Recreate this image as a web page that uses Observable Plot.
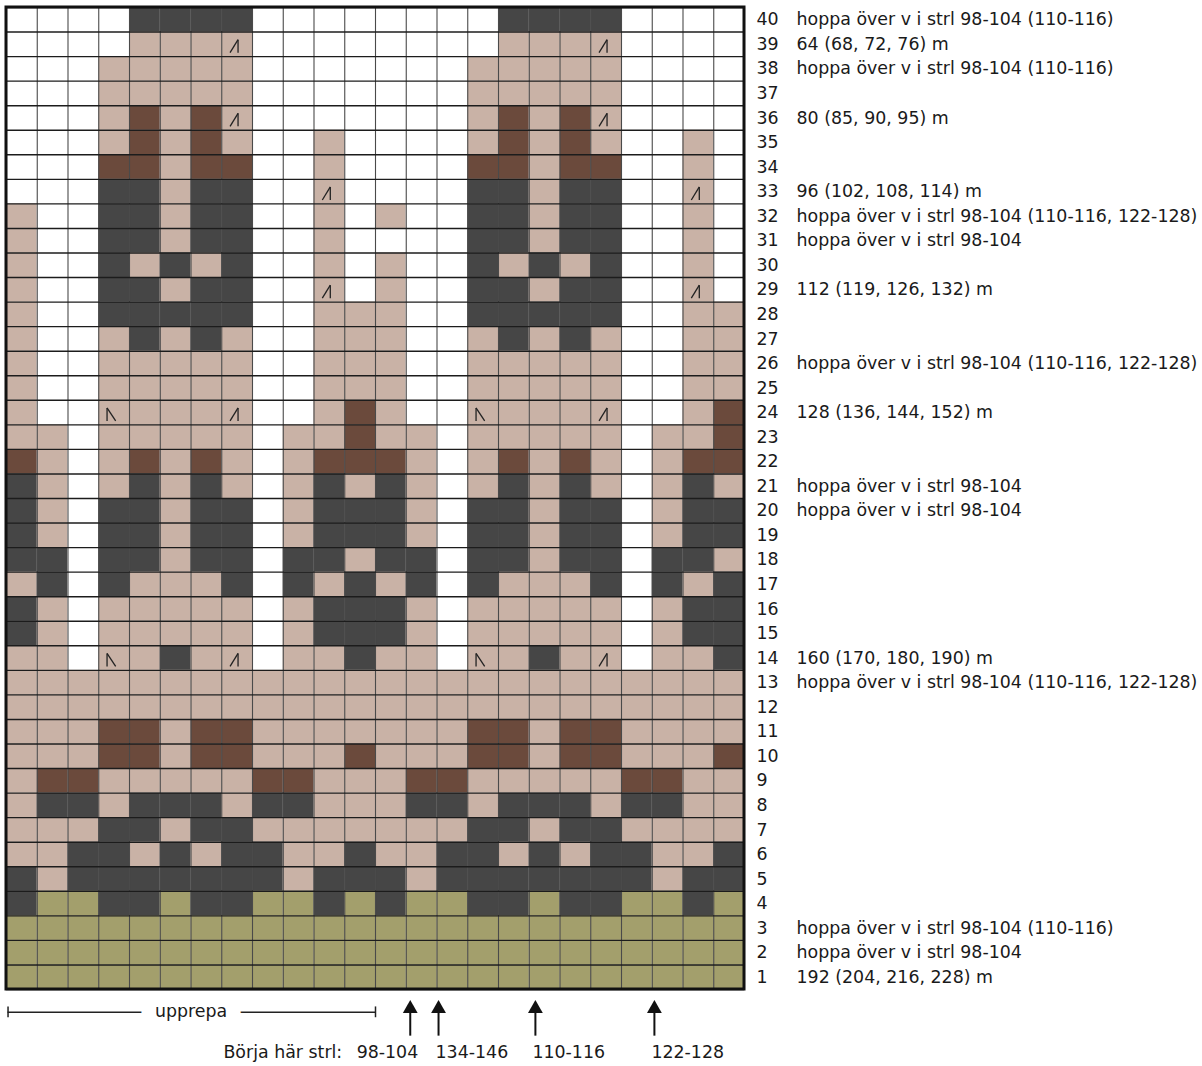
<!DOCTYPE html>
<html>
<head>
<meta charset="utf-8">
<script src="https://cdn.jsdelivr.net/npm/d3@7"></script>
<script src="https://cdn.jsdelivr.net/npm/@observablehq/plot@0.6"></script>
<style>
  html, body { margin: 0; padding: 0; background: #fff; }
  #chart svg { display: block; }
</style>
</head>
<body>
<div id="chart"></div>
<script>
// Chart rows, from row 40 (top) down to row 1 (bottom); one code per stitch (24 stitches)
// W = white, B = beige, D = dark grey, R = brown, G = olive
const rowCodes = [
  "WWWWDDDDWWWWWWWWDDDDWWWW", // 40
  "WWWWBBBBWWWWWWWWBBBBWWWW", // 39
  "WWWBBBBBWWWWWWWBBBBBWWWW", // 38
  "WWWBBBBBWWWWWWWBBBBBWWWW", // 37
  "WWWBRBRBWWWWWWWBRBRBWWWW", // 36
  "WWWBRBRBWWBWWWWBRBRBWWBW", // 35
  "WWWRRBRRWWBWWWWRRBRRWWBW", // 34
  "WWWDDBDDWWBWWWWDDBDDWWBW", // 33
  "BWWDDBDDWWBWBWWDDBDDWWBW", // 32
  "BWWDDBDDWWBWWWWDDBDDWWBW", // 31
  "BWWDBDBDWWBWBWWDBDBDWWBW", // 30
  "BWWDDBDDWWBWBWWDDBDDWWBW", // 29
  "BWWDDDDDWWBBBWWDDDDDWWBB", // 28
  "BWWBDBDBWWBBBWWBDBDBWWBB", // 27
  "BWWBBBBBWWBBBWWBBBBBWWBB", // 26
  "BWWBBBBBWWBBBWWBBBBBWWBB", // 25
  "BWWBBBBBWWBRBWWBBBBBWWBR", // 24
  "BBWBBBBBWBBRBBWBBBBBWBBR", // 23
  "RBWBRBRBWBRRRBWBRBRBWBRR", // 22
  "DBWBDBDBWBDBDBWBDBDBWBDB", // 21
  "DBWDDBDDWBDDDBWDDBDDWBDD", // 20
  "DBWDDBDDWBDDDBWDDBDDWBDD", // 19
  "DDWDDBDDWDDBDDWDDBDDWDDB", // 18
  "BDWDBBBDWDBDBDWDBBBDWDBD", // 17
  "DBWBBBBBWBDDDBWBBBBBWBDD", // 16
  "DBWBBBBBWBDDDBWBBBBBWBDD", // 15
  "BBWBBDBBWBBDBBWBBDBBWBBD", // 14
  "BBBBBBBBBBBBBBBBBBBBBBBB", // 13
  "BBBBBBBBBBBBBBBBBBBBBBBB", // 12
  "BBBRRBRRBBBBBBBRRBRRBBBB", // 11
  "BBBRRBRRBBBRBBBRRBRRBBBR", // 10
  "BRRBBBBBRRBBBRRBBBBBRRBB", // 9
  "BDDBDDDBDDBBBDDBDDDBDDBB", // 8
  "BBBDDBDDBBBBBBBDDBDDBBBB", // 7
  "BBDDBDBDDBBDBBDDBDBDDBBD", // 6
  "DBDDDDDDDBDDDBDDDDDDDBDD", // 5
  "DGGDDGDDGGDGDGGDDGDDGGDG", // 4
  "GGGGGGGGGGGGGGGGGGGGGGGG", // 3
  "GGGGGGGGGGGGGGGGGGGGGGGG", // 2
  "GGGGGGGGGGGGGGGGGGGGGGGG"  // 1
];
const colorCodes = ["W", "B", "D", "R", "G"];
const colorValues = ["#ffffff", "#c9b2a6", "#464646", "#6b4a3c", "#a39f6c"];

// decrease symbols [row, stitch]
const decRight = [[39,8],[39,20],[36,8],[36,20],[33,11],[33,23],[29,11],[29,23],[24,8],[24,20],[14,8],[14,20]];
const decLeft  = [[24,4],[24,16],[14,4],[14,16]];

// notes beside rows
const noteRows  = [40, 39, 38, 36, 33, 32, 31, 29, 26, 24, 21, 20, 14, 13, 3, 2, 1];
const noteTexts = [
  "hoppa över v i strl 98-104 (110-116)",
  "64 (68, 72, 76) m",
  "hoppa över v i strl 98-104 (110-116)",
  "80 (85, 90, 95) m",
  "96 (102, 108, 114) m",
  "hoppa över v i strl 98-104 (110-116, 122-128)",
  "hoppa över v i strl 98-104",
  "112 (119, 126, 132) m",
  "hoppa över v i strl 98-104 (110-116, 122-128)",
  "128 (136, 144, 152) m",
  "hoppa över v i strl 98-104",
  "hoppa över v i strl 98-104",
  "160 (170, 180, 190) m",
  "hoppa över v i strl 98-104 (110-116, 122-128)",
  "hoppa över v i strl 98-104 (110-116)",
  "hoppa över v i strl 98-104",
  "192 (204, 216, 228) m"
];

// repeat span (stitch boundaries) and start arrows (stitch position)
const repeatSpan = [0, 12];
const repeatLabel = "upprepa";
const startSizes = ["98-104", "134-146", "110-116", "122-128"];
const startPos = [13.13, 14.05, 17.2, 21.07];
const startTitle = "Börja här strl:";

// ---- build tables
const nRows = rowCodes.length, nCols = rowCodes[0].length;
const cells = [];
rowCodes.forEach((s, i) => {
  const row = nRows - i;
  [...s].forEach((c, j) => cells.push({row, col: j + 1, code: c}));
});
const rowNums = d3.range(1, nRows + 1);
const notes = noteRows.map((r, i) => ({row: r, text: noteTexts[i]}));
const dr = decRight.map(([row, col]) => ({row, col}));
const dl = decLeft.map(([row, col]) => ({row, col}));
const starts = startSizes.map((s, i) => ({label: s, x: startPos[i]}));

const annY = -0.93;     // repeat line level (below chart)
const arrowTop = -0.6, arrowBottom = -1.9, labelY = -2.55;

const chart = Plot.plot({
  width: 1202,
  height: 1066,
  marginLeft: 6,
  marginRight: 458,
  marginTop: 7,
  marginBottom: 77,
  x: {domain: [0, nCols], axis: null},
  y: {domain: [0, nRows], axis: null},
  color: {domain: colorCodes, range: colorValues},
  style: {fontFamily: "'DejaVu Sans', sans-serif", fontSize: "17.4px", color: "#1a1a1a", background: "#fff"},
  marks: [
    Plot.rect(cells, {x1: d => d.col - 1, x2: d => d.col, y1: d => d.row - 1, y2: d => d.row, fill: "code"}),
    Plot.ruleX(d3.range(0, nCols + 1), {y1: 0, y2: nRows, stroke: "#4a4a4a", strokeWidth: 1.1}),
    Plot.ruleY(d3.range(0, nRows + 1), {x1: 0, x2: nCols, stroke: "#1c1c1c", strokeWidth: 1.4}),
    Plot.rect([0], {x1: 0, x2: nCols, y1: 0, y2: nRows, fill: "none", stroke: "#111", strokeWidth: 3}),
    // decrease symbols
    Plot.link(dr, {x1: d => d.col - 1 + 0.27, y1: d => d.row - 1 + 0.16, x2: d => d.col - 1 + 0.53, y2: d => d.row - 1 + 0.69, stroke: "#222", strokeWidth: 1.3}),
    Plot.link(dr, {x1: d => d.col - 1 + 0.53, y1: d => d.row - 1 + 0.16, x2: d => d.col - 1 + 0.53, y2: d => d.row - 1 + 0.69, stroke: "#222", strokeWidth: 1.3}),
    Plot.link(dl, {x1: d => d.col - 1 + 0.27, y1: d => d.row - 1 + 0.16, x2: d => d.col - 1 + 0.27, y2: d => d.row - 1 + 0.69, stroke: "#222", strokeWidth: 1.3}),
    Plot.link(dl, {x1: d => d.col - 1 + 0.55, y1: d => d.row - 1 + 0.16, x2: d => d.col - 1 + 0.27, y2: d => d.row - 1 + 0.69, stroke: "#222", strokeWidth: 1.3}),
    // row numbers and notes
    Plot.text(rowNums, {x: nCols, y: d => d - 0.5, text: d => String(d), textAnchor: "start", dx: 12, fill: "#1a1a1a"}),
    Plot.text(notes, {x: nCols, y: d => d.row - 0.5, text: "text", textAnchor: "start", dx: 52, fill: "#1a1a1a"}),
    // repeat bracket
    Plot.ruleY([annY], {x1: repeatSpan[0] + 0.05, x2: repeatSpan[1], stroke: "#222", strokeWidth: 1.5}),
    Plot.ruleX(repeatSpan, {x: d => d === 0 ? d + 0.05 : d, y1: annY - 0.22, y2: annY + 0.22, stroke: "#222", strokeWidth: 1.5}),
    Plot.text([repeatLabel], {x: (repeatSpan[0] + repeatSpan[1]) / 2, y: annY, text: d => d, stroke: "#fff", strokeWidth: 30, fill: "#1a1a1a", dy: -1}),
    // start arrows
    Plot.ruleX(starts, {x: "x", y1: arrowBottom, y2: arrowTop - 0.3, stroke: "#111", strokeWidth: 2}),
    Plot.dot(starts, {x: "x", y: arrowTop - 0.18, symbol: "triangle", r: 5.5, fill: "#111", stroke: "none"}),
    Plot.text(starts.slice(0, 1), {x: "x", y: labelY, text: "label", textAnchor: "end", dx: 8, fill: "#1a1a1a"}),
    Plot.text(starts.slice(1), {x: "x", y: labelY, text: "label", textAnchor: "start", dx: -3, fill: "#1a1a1a"}),
    Plot.text([startTitle], {x: startPos[0], y: labelY, text: d => d, textAnchor: "end", dx: -68, fill: "#1a1a1a"})
  ]
});
document.getElementById("chart").appendChild(chart);
</script>
</body>
</html>
